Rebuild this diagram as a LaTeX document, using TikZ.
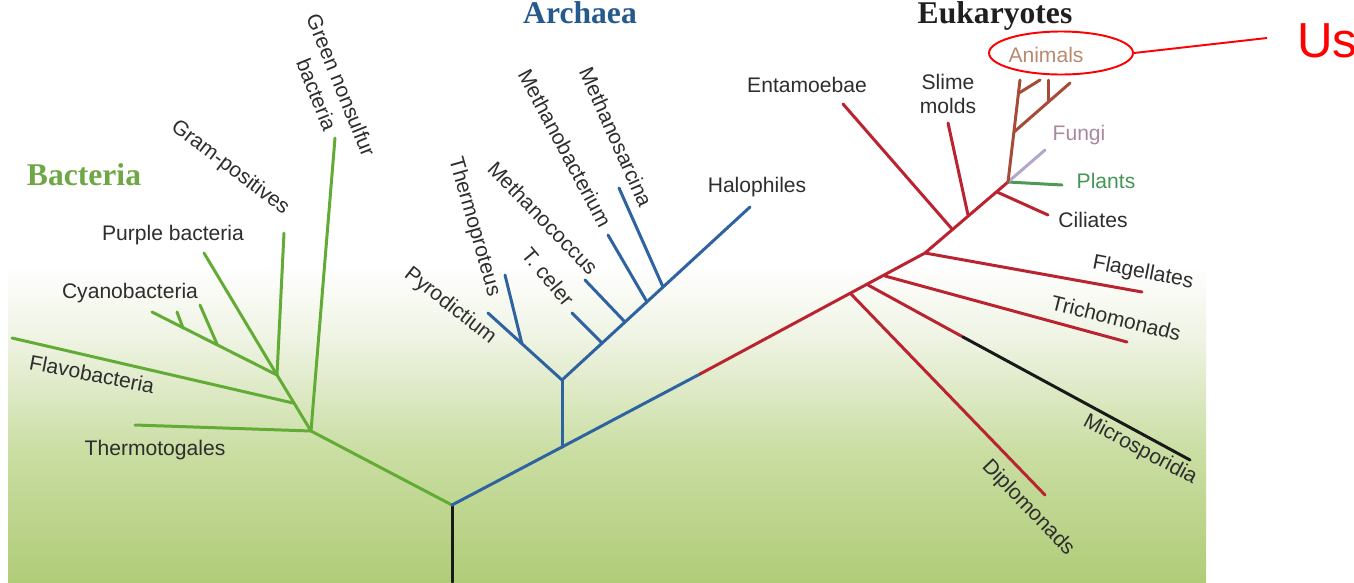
\documentclass[tikz,border=0pt]{standalone}
\usepackage{fontspec}
\setmainfont{Liberation Sans}
\newfontfamily\headfont{Liberation Serif}
\usetikzlibrary{shapes.geometric}
\definecolor{bgreen}{HTML}{62AC36}
\definecolor{bhead}{HTML}{6EA846}
\definecolor{ablue}{HTML}{2E62A0}
\definecolor{ahead}{HTML}{245A8C}
\definecolor{ered}{HTML}{BA2330}
\definecolor{animal}{HTML}{A54B37}
\definecolor{animaltxt}{HTML}{B98A70}
\definecolor{fungus}{HTML}{B4A6C8}
\definecolor{fungitxt}{HTML}{A88AA0}
\definecolor{plant}{HTML}{4E9A55}
\definecolor{planttxt}{HTML}{46965A}
\definecolor{usred}{HTML}{FF0000}
\definecolor{paperA}{RGB}{176,204,120}
\definecolor{paperB}{RGB}{202,222,163}
\definecolor{paperC}{RGB}{238,243,226}

\begin{document}
\begin{tikzpicture}[x=0.02cm,y=-0.02cm,font=\fontsize{12}{14}\selectfont,
  limb/.style={line width=1.7pt,line cap=round},
  bact/.style={limb,draw=bgreen},
  arch/.style={limb,draw=ablue},
  euk/.style={limb,draw=ered},
  lbl/.style={inner sep=0pt,text=black!82},
  head/.style={inner sep=0pt,font=\headfont\bfseries\fontsize{18}{20}\selectfont}]
  \useasboundingbox (0,0) rectangle (1354,582);
  % paper of the scan, white on top, greening downwards
  \fill[white] (0,0) rectangle (1354,582);
  \shade[top color=white,bottom color=paperC] (8,265) rectangle (1206,341);
  \shade[top color=paperC,bottom color=paperB] (8,340) rectangle (1206,451);
  \shade[top color=paperB,bottom color=paperA] (8,450) rectangle (1206,582);

  % ---------------- root and main stem ----------------
  \coordinate (root) at (452,505);
  \coordinate (foot) at (452,582);
  \coordinate (a0) at (562,447);
  \coordinate (swap) at (700,374);
  \draw[limb,draw=black!90] (root) -- (foot);

  % ---------------- left: bacteria ----------------
  \coordinate (b0) at (311,431);
  \coordinate (b1) at (293,403);
  \coordinate (b2) at (277,375);
  \coordinate (c1) at (183,328);
  \coordinate (c2) at (217,344);
  \coordinate (tThermo) at (135,425);
  \coordinate (tFlavo) at (12,338);
  \coordinate (tCyano) at (152,312);
  \coordinate (tCyanoA) at (177,312);
  \coordinate (tCyanoB) at (200,305);
  \coordinate (tPurple) at (204,253);
  \coordinate (tGram) at (284,233);
  \coordinate (tGreen) at (335,138);
  \draw[bact] (root) -- (b0) -- (b2);
  \draw[bact] (b0) -- (tThermo);
  \draw[bact] (b0) -- (tGreen);
  \draw[bact] (b1) -- (tFlavo);
  \foreach \t in {tCyano,tPurple,tGram} \draw[bact] (b2) -- (\t);
  \draw[bact] (c1) -- (tCyanoA);
  \draw[bact] (c2) -- (tCyanoB);
  \node[head,text=bhead,anchor=base] (bacteria) at (84,185) {Bacteria};
  \node[lbl,anchor=base] (thermo) at (155,455) {Thermotogales};
  \node[lbl,rotate=-11] (flavo) at (92,374) {Flavobacteria};
  \node[lbl,anchor=base] (cyano) at (130,298) {Cyanobacteria};
  \node[lbl,anchor=base] (purple) at (173,240) {Purple bacteria};
  \node[lbl,rotate=-37] (gram) at (230,168) {Gram-positives};
  \node[lbl,rotate=-68,align=center,font=\fontsize{12}{15}\selectfont] (green) at (329,90) {Green nonsulfur\\bacteria};

  % ---------------- middle: archaea ----------------
  \coordinate (a1) at (562,380);
  \coordinate (a2) at (522,344);
  \coordinate (a3) at (602,343);
  \coordinate (a4) at (625,322);
  \coordinate (a5) at (647,302);
  \coordinate (a6) at (663,287);
  \coordinate (tPyro) at (488,313);
  \coordinate (tThermop) at (505,275);
  \coordinate (tCeler) at (572,313);
  \coordinate (tMcoc) at (585,280);
  \coordinate (tMbac) at (608,235);
  \coordinate (tMsar) at (619,188);
  \coordinate (tHalo) at (750,207);
  \draw[arch] (root) -- (a0) -- (swap);
  \draw[arch] (a0) -- (a1);
  \draw[arch] (a1) -- (tPyro);
  \draw[arch] (a2) -- (tThermop);
  \draw[arch] (a1) -- (tHalo);
  \foreach \j/\t in {a3/tCeler,a4/tMcoc,a5/tMbac,a6/tMsar} \draw[arch] (\j) -- (\t);
  \node[head,text=ahead,anchor=base] (archaea) at (580,23) {Archaea};
  \node[lbl,rotate=-38] (pyro) at (450,306) {Pyrodictium};
  \node[lbl,rotate=-74] (thermop) at (474,227) {Thermoproteus};
  \node[lbl,rotate=-50] (celer) at (548,277) {T. celer};
  \node[lbl,rotate=-46] (mcoc) at (543,218) {Methanococcus};
  \node[lbl,rotate=-62] (mbac) at (565,148) {Methanobacterium};
  \node[lbl,rotate=-66] (msar) at (616,137) {Methanosarcina};
  \node[lbl,anchor=base] (halo) at (757,192) {Halophiles};

  % ---------------- right: eukaryotes ----------------
  \coordinate (e1) at (851,294);
  \coordinate (e2) at (868,285);
  \coordinate (e3) at (885,276);
  \coordinate (e4) at (925,253);
  \coordinate (e5) at (952,229);
  \coordinate (e6) at (968,215);
  \coordinate (e7) at (997,192);
  \coordinate (e8) at (1008,182);
  \coordinate (mMicro) at (963,337);
  \coordinate (tDiplo) at (1045,495);
  \coordinate (tMicro) at (1190,460);
  \coordinate (tTricho) at (1127,342);
  \coordinate (tFlag) at (1142,292);
  \coordinate (tEntam) at (843,104);
  \coordinate (tSlime) at (948,123);
  \coordinate (tCil) at (1048,215);
  \coordinate (tPlant) at (1062,185);
  \coordinate (tFungi) at (1045,150);
  \coordinate (tAnimal) at (1020,80);
  \coordinate (n1) at (1019,93);
  \coordinate (n2) at (1014,132);
  \coordinate (n3) at (1048,102);
  \coordinate (tAnA) at (1040,80);
  \coordinate (tAnB) at (1070,83);
  \coordinate (tAnC) at (1048,80);
  \draw[euk] (swap) -- (e4) -- (e8);
  \foreach \j/\t in {e1/tDiplo,e3/tTricho,e4/tFlag,e5/tEntam,e6/tSlime,e7/tCil} \draw[euk] (\j) -- (\t);
  \draw[euk] (e2) -- (mMicro);
  \draw[limb,draw=black!90] (mMicro) -- (tMicro);
  \draw[limb,draw=plant] (e8) -- (tPlant);
  \draw[limb,draw=fungus] (e8) -- (tFungi);
  \draw[limb,draw=animal] (e8) -- (tAnimal);
  \draw[limb,draw=animal] (n1) -- (tAnA);
  \draw[limb,draw=animal] (n2) -- (tAnB);
  \draw[limb,draw=animal] (n3) -- (tAnC);
  \node[head,text=black!88,anchor=base] (eukaryotes) at (995,23) {Eukaryotes};
  \node[lbl,anchor=base] (entam) at (807,92) {Entamoebae};
  \node[lbl,align=center] (slime) at (948,94) {Slime\\molds};
  \node[lbl,anchor=base,text=animaltxt] (animals) at (1046,62) {Animals};
  \node[lbl,anchor=base,text=fungitxt] (fungi) at (1079,140) {Fungi};
  \node[lbl,anchor=base,text=planttxt] (plants) at (1106,188) {Plants};
  \node[lbl,anchor=base] (cil) at (1093,227) {Ciliates};
  \node[lbl,rotate=-11] (flag) at (1143,273) {Flagellates};
  \node[lbl,rotate=-14] (tricho) at (1116,318) {Trichomonads};
  \node[lbl,rotate=-28] (micro) at (1140,450) {Microsporidia};
  \node[lbl,rotate=-46] (diplo) at (1028,508) {Diplomonads};

  % the "Us" callout
  \node[draw=usred,line width=1.1pt,ellipse,minimum width=2.88cm,minimum height=0.86cm,inner sep=0pt] (ring) at (1061,53) {};
  \coordinate (pointer) at (1267,38);
  \draw[usred,line width=1.1pt] (ring.east) -- (pointer);
  \node[text=usred,font=\fontsize{28}{30}\selectfont,anchor=base west,inner sep=0pt] (us) at (1297,57) {Us};
\end{tikzpicture}
\end{document}
